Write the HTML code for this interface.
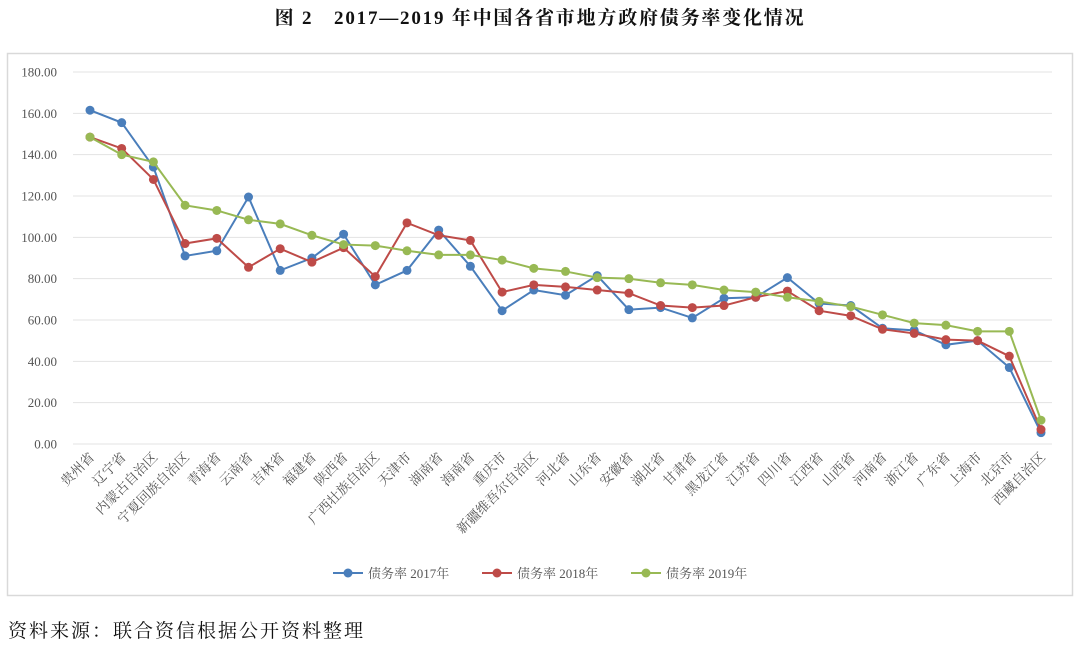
<!DOCTYPE html>
<html><head><meta charset="utf-8"><style>
body{margin:0;background:#fff;width:1080px;height:647px;overflow:hidden;font-family:"Liberation Serif","Noto Serif CJK SC",serif;}
</style></head><body>
<svg id="s" width="1080" height="647" xmlns="http://www.w3.org/2000/svg" font-family="Liberation Serif, Noto Serif CJK SC, serif">
<text x="540" y="24" text-anchor="middle" font-size="19" letter-spacing="1.8" font-weight="bold" fill="#111">图 2　2017—2019 年中国各省市地方政府债务率变化情况</text>
<rect x="7.5" y="53.5" width="1065" height="542" fill="none" stroke="#d9d9d9" stroke-width="1.5"/>
<g id="grid"></g>
<g id="lines"></g>
<g id="labels" font-size="13.5" fill="#555"></g>
<g font-size="13" fill="#555">
<line x1="333" y1="573" x2="363" y2="573" stroke="#4a7ebb" stroke-width="2"/><circle cx="348" cy="573" r="4.5" fill="#4a7ebb"/>
<text x="368" y="578">债务率 2017年</text>
<line x1="482" y1="573" x2="512" y2="573" stroke="#be4b48" stroke-width="2"/><circle cx="497" cy="573" r="4.5" fill="#be4b48"/>
<text x="517" y="578">债务率 2018年</text>
<line x1="631" y1="573" x2="661" y2="573" stroke="#98b954" stroke-width="2"/><circle cx="646" cy="573" r="4.5" fill="#98b954"/>
<text x="666" y="578">债务率 2019年</text>
</g>
<text x="8" y="637" font-size="19" letter-spacing="2" fill="#111">资料来源：联合资信根据公开资料整理</text>
</svg>
<script>
var names=["贵州省","辽宁省","内蒙古自治区","宁夏回族自治区","青海省","云南省","吉林省","福建省","陕西省","广西壮族自治区","天津市","湖南省","海南省","重庆市","新疆维吾尔自治区","河北省","山东省","安徽省","湖北省","甘肃省","黑龙江省","江苏省","四川省","江西省","山西省","河南省","浙江省","广东省","上海市","北京市","西藏自治区"];
var d=[[161.5,155.5,134,91,93.5,119.5,84,90,101.5,77,84,103.5,86,64.5,74.5,72,81.5,65,66,61,70.5,71,80.5,68,67,56,55,48,50,37,5.5],
[148.5,143,128,97,99.5,85.5,94.5,88,95,81,107,101,98.5,73.5,77,76,74.5,73,67,66,67,71,74,64.5,62,55.5,53.5,50.5,50,42.5,7],
[148.5,140,136.5,115.5,113,108.5,106.5,101,96.5,96,93.5,91.5,91.5,89,85,83.5,80.5,80,78,77,74.5,73.5,71,69,66.5,62.5,58.5,57.5,54.5,54.5,11.5]];
var cols=["#4a7ebb","#be4b48","#98b954"];
function X(i){return 90+i*31.7} function Y(v){return 444-v*372/180}
var g="";
for(var k=0;k<=9;k++){var y=Y(k*20);g+='<line x1="73" x2="1052" y1="'+y+'" y2="'+y+'" stroke="#e3e3e3" stroke-width="1"/><text x="57" y="'+(y+4.5)+'" text-anchor="end" font-size="13" fill="#555">'+(k*20).toFixed(2)+'</text>';}
document.getElementById("grid").innerHTML=g;
var l="";
for(var s=0;s<3;s++){var p=d[s].map(function(v,i){return X(i)+","+Y(v)}).join(" ");
l+='<polyline points="'+p+'" fill="none" stroke="'+cols[s]+'" stroke-width="2"/>';
d[s].forEach(function(v,i){l+='<circle cx="'+X(i)+'" cy="'+Y(v)+'" r="4.5" fill="'+cols[s]+'"/>';});}
document.getElementById("lines").innerHTML=l;
var t="";names.forEach(function(n,i){var x=X(i)+5,y=458;t+='<text x="'+x+'" y="'+y+'" text-anchor="end" transform="rotate(-45 '+x+' '+y+')">'+n+'</text>';});
document.getElementById("labels").innerHTML=t;
</script>
</body></html>
